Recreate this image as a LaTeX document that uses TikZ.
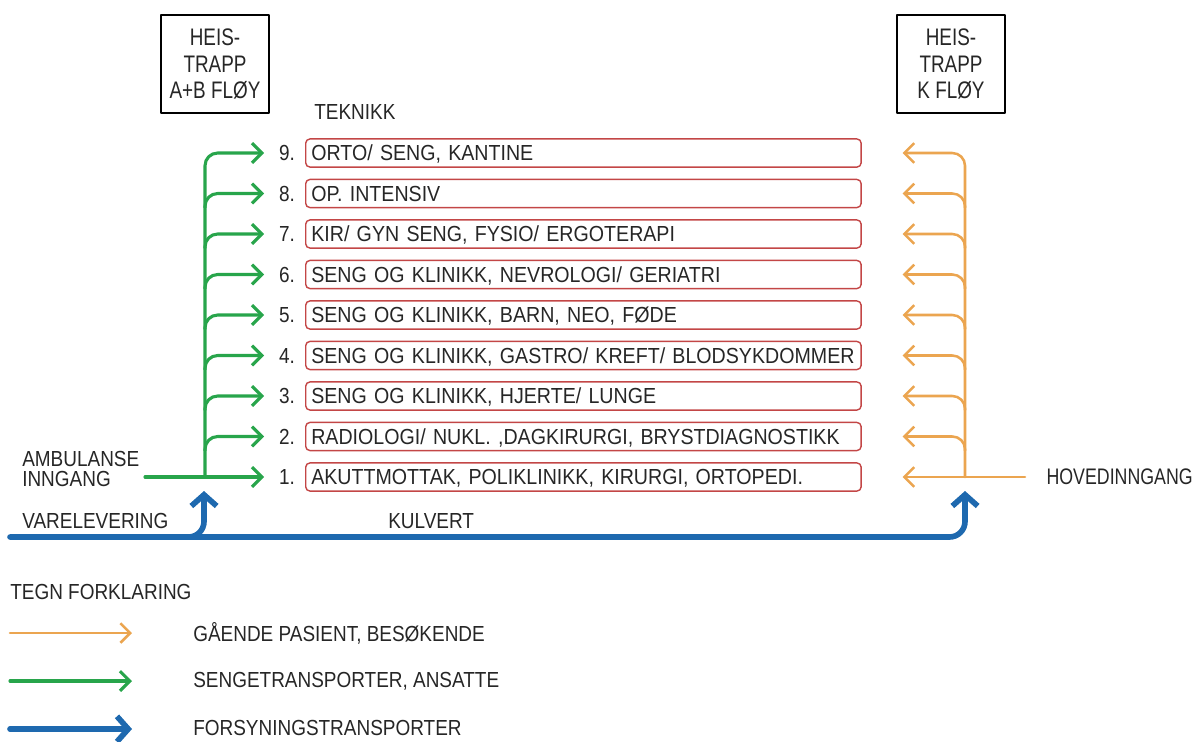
\documentclass[tikz,border=0pt]{standalone}
\usepackage{fontspec}
\setmainfont{Liberation Sans}[FakeStretch=0.87]
\newfontfamily\floorfont{Liberation Sans}[FakeStretch=0.9]
\newfontfamily\narrowfont{Liberation Sans}[FakeStretch=0.79]
\usetikzlibrary{positioning,calc,arrows.meta}
\definecolor{bedgreen}{RGB}{40,165,75}
\definecolor{walkorange}{RGB}{235,165,80}
\definecolor{supplyblue}{RGB}{30,105,175}
\definecolor{floorred}{RGB}{195,70,70}

\begin{document}
\begin{tikzpicture}[
	x=0.025cm, y=-0.025cm,
	line cap=round, line join=round,
	font=\fontsize{15.5}{17.7}\selectfont, text=black!85,
	floor/.style={draw=floorred, line width=1pt, rounded corners=3pt, font=\floorfont\fontsize{15.5}{17.7}\selectfont, text width=387pt, inner xsep=4pt, text height=12.5pt, text depth=1.5pt, inner ysep=3pt, align=left},
	num/.style={inner xsep=3pt},
	heis/.style={draw=black, line width=1.2pt, minimum width=77pt, minimum height=70pt, align=center, font=\narrowfont\fontsize{17}{19}\selectfont},
	lbl/.style={inner sep=0pt, anchor=west},
	tofloor/.style={shorten >=7.5pt},
	bed/.style={draw=bedgreen, line width=2.2pt, rounded corners=9pt, -{Straight Barb[length=7pt,width=14pt]}},
	walk/.style={draw=walkorange, line width=1.8pt, rounded corners=9pt, -{Straight Barb[length=7pt,width=14pt]}},
	supply/.style={draw=supplyblue, line width=4pt, rounded corners=11pt, -{Straight Barb[length=8pt,width=18pt]}}
	]
	
	\useasboundingbox (0,0) rectangle (1198,742);
	
	\node[heis] (heisab) at (215,64) {HEIS-\\TRAPP\\A+B FLØY};
	\node[heis] (heisk) at (951,64) {HEIS-\\TRAPP\\K FLØY};
	\node[lbl] (tek) at (314,112) {TEKNIKK};
	
	\node[floor, anchor=west] (f1) at (305,477) {AKUTTMOTTAK, POLIKLINIKK, KIRURGI, ORTOPEDI.};
	\node[floor, above=7.8pt of f1] (f2) {RADIOLOGI/ NUKL. ,DAGKIRURGI, BRYSTDIAGNOSTIKK};
	\node[floor, above=7.8pt of f2] (f3) {SENG OG KLINIKK, HJERTE/ LUNGE};
	\node[floor, above=7.8pt of f3] (f4) {SENG OG KLINIKK, GASTRO/ KREFT/ BLODSYKDOMMER};
	\node[floor, above=7.8pt of f4] (f5) {SENG OG KLINIKK, BARN, NEO, FØDE};
	\node[floor, above=7.8pt of f5] (f6) {SENG OG KLINIKK, NEVROLOGI/ GERIATRI};
	\node[floor, above=7.8pt of f6] (f7) {KIR/ GYN SENG, FYSIO/ ERGOTERAPI};
	\node[floor, above=7.8pt of f7] (f8) {OP. INTENSIV};
	\node[floor, above=7.8pt of f8] (f9) {ORTO/ SENG, KANTINE};
	
	\node[num, left=4pt of f1] (n1) {1.};
	\node[num, left=4pt of f2] (n2) {2.};
	\node[num, left=4pt of f3] (n3) {3.};
	\node[num, left=4pt of f4] (n4) {4.};
	\node[num, left=4pt of f5] (n5) {5.};
	\node[num, left=4pt of f6] (n6) {6.};
	\node[num, left=4pt of f7] (n7) {7.};
	\node[num, left=4pt of f8] (n8) {8.};
	\node[num, left=4pt of f9] (n9) {9.};
	
	\node[lbl, align=left, font=\fontsize{15.5}{14.5}\selectfont] (amblbl) at (22,469) {AMBULANSE\\INNGANG};
	\node[lbl] (varelbl) at (22,521) {VARELEVERING};
	\node[lbl] (kulvert) at (388,521) {KULVERT};
	\node[lbl, anchor=east, font=\narrowfont\fontsize{16}{18}\selectfont] (hovedlbl) at (1193,477) {HOVEDINNGANG};
	
	\coordinate (amb) at (145,477);
	\coordinate (gtrunk) at (205,477);
	\draw[bed, tofloor] (amb) -- (n1.west);
	\draw[bed, tofloor] (gtrunk) |- (n9.west);
	\draw[bed, tofloor] ($(gtrunk |- f2)+(0,-10pt)$) |- (n2.west);
	\draw[bed, tofloor] ($(gtrunk |- f3)+(0,-10pt)$) |- (n3.west);
	\draw[bed, tofloor] ($(gtrunk |- f4)+(0,-10pt)$) |- (n4.west);
	\draw[bed, tofloor] ($(gtrunk |- f5)+(0,-10pt)$) |- (n5.west);
	\draw[bed, tofloor] ($(gtrunk |- f6)+(0,-10pt)$) |- (n6.west);
	\draw[bed, tofloor] ($(gtrunk |- f7)+(0,-10pt)$) |- (n7.west);
	\draw[bed, tofloor] ($(gtrunk |- f8)+(0,-10pt)$) |- (n8.west);
	
	\coordinate (hoved) at (1025,477);
	\coordinate (otrunk) at (965,477);
	\draw[walk] (hoved) -- ([xshift=29pt]f1.east);
	\draw[walk] (otrunk) |- ([xshift=29pt]f9.east);
	\draw[walk] ($(otrunk |- f2)+(0,-10pt)$) |- ([xshift=29pt]f2.east);
	\draw[walk] ($(otrunk |- f3)+(0,-10pt)$) |- ([xshift=29pt]f3.east);
	\draw[walk] ($(otrunk |- f4)+(0,-10pt)$) |- ([xshift=29pt]f4.east);
	\draw[walk] ($(otrunk |- f5)+(0,-10pt)$) |- ([xshift=29pt]f5.east);
	\draw[walk] ($(otrunk |- f6)+(0,-10pt)$) |- ([xshift=29pt]f6.east);
	\draw[walk] ($(otrunk |- f7)+(0,-10pt)$) |- ([xshift=29pt]f7.east);
	\draw[walk] ($(otrunk |- f8)+(0,-10pt)$) |- ([xshift=29pt]f8.east);
	
	\coordinate (kstart) at (10,537);
	\coordinate (ktip) at (965,491);
	\coordinate (vfoot) at (185,537);
	\coordinate (vtip) at (204,491);
	\draw[supply] (kstart) -| (ktip);
	\draw[supply] (vfoot) -| (vtip);
	
	\node[lbl] (legtitle) at (10,592) {TEGN FORKLARING};
	\node[lbl] (lwalk) at (193,633) {GÅENDE PASIENT, BESØKENDE};
	\node[lbl] (lbed) at (193,681) {SENGETRANSPORTER, ANSATTE};
	\node[lbl] (lsupply) at (193,728) {FORSYNINGSTRANSPORTER};
	\coordinate (lw0) at (10,633);
	\coordinate (lw1) at (132,633);
	\coordinate (lb0) at (10,681);
	\coordinate (lb1) at (132,681);
	\coordinate (ls0) at (10,729);
	\coordinate (ls1) at (132,729);
	\draw[walk] (lw0) -- (lw1);
	\draw[bed] (lb0) -- (lb1);
	\draw[supply] (ls0) -- (ls1);
\end{tikzpicture}
\end{document}
